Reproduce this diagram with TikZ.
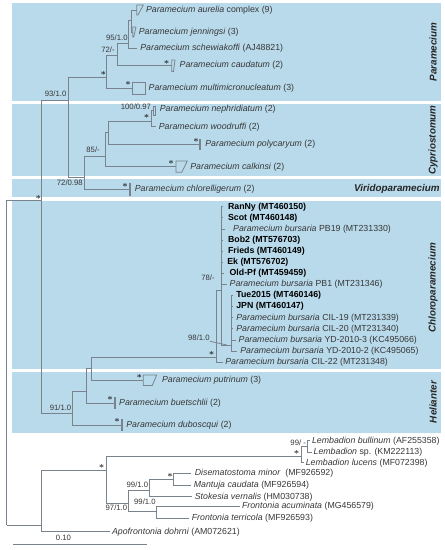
\documentclass[tikz,border=0pt]{standalone}
\usepackage{fontspec}
\setmainfont{Liberation Sans}
\usepackage{tikz}
\usetikzlibrary{positioning}

\definecolor{panelblue}{RGB}{185,218,235}
\definecolor{treegray}{RGB}{120,131,141}
\definecolor{namegray}{RGB}{55,55,55}

\begin{document}
\begin{tikzpicture}[
  x=0.02cm, y=-0.02cm,
  panel/.style={fill=panelblue, draw=none},
  branch/.style={draw=treegray, line width=0.45pt},
  taxon/.style={anchor=west, inner sep=0pt, text height=3.7pt, text depth=1.05pt, text=namegray, font=\fontsize{5}{6}\selectfont},
  strain/.style={taxon, text=black, font=\fontsize{5}{6}\selectfont\bfseries},
  supp/.style={inner sep=0pt, text height=3.2pt, text depth=0.8pt, text=namegray, font=\fontsize{4.4}{5}\selectfont},
  star/.style={inner sep=0pt, font=\fontsize{5.5}{6}\selectfont},
  group/.style={inner sep=0pt, text=black!85, font=\fontsize{5.6}{6}\selectfont\bfseries\itshape}
]
\useasboundingbox (0,0) rectangle (444,550);

\fill[panel] (12,3) rectangle (441,101);
\fill[panel] (12,104.5) rectangle (441,176);
\fill[panel] (12,179) rectangle (441,197.5);
\fill[panel] (12,201) rectangle (441,369);
\fill[panel] (12,372) rectangle (441,433);

\node[group, rotate=90] (gpar) at (433,52) {Paramecium};
\node[group, rotate=90] (gcyp) at (433,140) {Cypriostomum};
\node[group, anchor=east] (gvir) at (440,188.5) {Viridoparamecium};
\node[group, rotate=90] (gchl) at (433,288) {Chloroparamecium};
\node[group, rotate=90] (ghel) at (433,402) {Helianter};

% root and main split
\coordinate (root) at (6.7,525);
\coordinate (ingroup) at (41.7,200.7);
\coordinate (outgroup) at (41.7,525);
\draw[branch] (root) |- (ingroup);
\draw[branch] (root) -- (outgroup);
\node[star] (s0) at (38.3,197) {$\ast$};

% Paramecium
\coordinate (core) at (68,100);
\coordinate (paramcl) at (106.7,77.3);
\coordinate (aurcl) at (117.3,55);
\coordinate (schcl) at (128.3,43.3);
\coordinate (aurjen) at (131.7,20);
\coordinate (aur) at (136.7,10);
\coordinate (jen) at (132.7,32);
\coordinate (sch) at (136.7,48.3);
\coordinate (cau) at (171.7,65.7);
\coordinate (mmi) at (132.7,88.3);

\draw[branch] (ingroup) |- (core);
\draw[branch] (core) |- (paramcl);
\draw[branch] (paramcl) |- (aurcl);
\draw[branch] (paramcl) |- (mmi);
\draw[branch] (aurcl) |- (schcl);
\draw[branch] (aurcl) |- (cau);
\draw[branch] (schcl) |- (aurjen);
\draw[branch] (schcl) |- (sch);
\draw[branch] (aurjen) |- (aur);
\draw[branch] (aurjen) |- (jen);

\draw[branch] (aur) ++(0,-5) -- ++(6.6,0) -- ++(-5.3,10) -- ++(-1.3,0) -- cycle;
\draw[branch] (jen) ++(0,-5) -- ++(3.3,0) -- ++(-2.3,10) -- ++(-1,0) -- cycle;
\draw[branch] (cau) ++(0,-5.7) -- ++(3.3,0) -- ++(-1.5,11.5) -- ++(-1.8,0) -- cycle;
\draw[branch] (mmi) ++(0,-5.8) rectangle ++(12.3,11.6);

\node[taxon] (aurlab) at (145.7,10) {\textit{Paramecium aurelia} complex (9)};
\node[taxon] (jenlab) at (138.5,32.5) {\textit{Paramecium jenningsi} (3)};
\node[taxon] (schlab) at (140,48.3) {\textit{Paramecium schewiakoffi} (AJ48821)};
\node[taxon] (caulab) at (179.3,65.5) {\textit{Paramecium caudatum} (2)};
\node[taxon] (mmilab) at (148.3,88.3) {\textit{Paramecium multimicronucleatum} (3)};

\node[supp, above left=0.7pt and 0.2pt of schcl] (b95) {95/1.0};
\node[supp, above left=0.5pt and 1.3pt of aurcl] (b72) {72/-};
\node[supp, above left=0.9pt and 0.75pt of core] (b93) {93/1.0};
\node[star] (s1) at (103.3,73) {$\ast$};
\node[star] (s2) at (166.7,62) {$\ast$};
\node[star] (s3) at (128,83.5) {$\ast$};

% Cypriostomum and Viridoparamecium
\coordinate (viricl) at (84.3,177.7);
\coordinate (cypcl) at (105,156.7);
\coordinate (polycl) at (108.3,132.7);
\coordinate (nephcl) at (151.7,121);
\coordinate (nep) at (153.8,110.7);
\coordinate (woo) at (156,126.7);
\coordinate (pol) at (199.5,144.3);
\coordinate (cal) at (176,166.7);
\coordinate (chl) at (129.5,189.3);

\draw[branch] (core) |- (viricl);
\draw[branch] (viricl) |- (cypcl);
\draw[branch] (viricl) |- (chl);
\draw[branch] (cypcl) |- (polycl);
\draw[branch] (cypcl) |- (cal);
\draw[branch] (polycl) |- (nephcl);
\draw[branch] (polycl) |- (pol);
\draw[branch] (nephcl) |- (nep);
\draw[branch] (nephcl) |- (woo);

\draw[branch] (nep) ++(0,-4.8) rectangle ++(1.2,9.6);
\draw[branch] (pol) ++(0,-5.3) rectangle ++(1.3,10.6);
\draw[branch] (cal) ++(0,-5.7) -- ++(11.3,0) -- ++(-5.6,11.3) -- ++(-5.7,0) -- cycle;
\draw[branch] (chl) ++(0,-5.8) rectangle ++(1.3,11.6);

\node[taxon] (neplab) at (159.5,109) {\textit{Paramecium nephridiatum} (2)};
\node[taxon] (woolab) at (158.5,126.7) {\textit{Paramecium woodruffi} (2)};
\node[taxon] (pollab) at (205,144.3) {\textit{Paramecium polycaryum} (2)};
\node[taxon] (callab) at (190,166.7) {\textit{Paramecium calkinsi} (2)};
\node[taxon] (chllab) at (134.5,189.3) {\textit{Paramecium chlorelligerum} (2)};

\node[supp, anchor=east] (b100) at (151.3,107.3) {100/0.97};
\node[supp, above left=1.3pt and 2.8pt of cypcl] (b85) {85/-};
\node[supp, below left=1.3pt and 0.7pt of viricl] (b7298) {72/0.98};
\node[star] (s4) at (146.7,116.7) {$\ast$};
\node[star] (s5) at (196,140.7) {$\ast$};
\node[star] (s6) at (171,162.7) {$\ast$};
\node[star] (s7) at (125,185) {$\ast$};

% Helianter
\coordinate (helcl) at (72.7,413.3);
\coordinate (buecl) at (86,391);
\coordinate (putcl) at (91,368.3);
\coordinate (put) at (143.3,380);
\coordinate (bue) at (114.5,403.3);
\coordinate (dub) at (121.5,425);

\draw[branch] (ingroup) |- (helcl);
\draw[branch] (helcl) |- (buecl);
\draw[branch] (helcl) |- (dub);
\draw[branch] (buecl) |- (putcl);
\draw[branch] (buecl) |- (bue);
\draw[branch] (putcl) |- (put);

\draw[branch] (put) ++(0,-5) -- ++(13.4,0) -- ++(-4.4,10.5) -- ++(-9,0) -- cycle;
\draw[branch] (bue) ++(0,-5.5) rectangle ++(1.3,11);
\draw[branch] (dub) ++(0,-5.5) rectangle ++(1.3,11);

\node[taxon] (putlab) at (161.7,380) {\textit{Paramecium putrinum} (3)};
\node[taxon] (buelab) at (118.8,403.3) {\textit{Paramecium buetschlii} (2)};
\node[taxon] (dublab) at (126,425) {\textit{Paramecium duboscqui} (2)};

\node[supp, above left=0.4pt and 0.6pt of helcl] (b91) {91/1.0};
\node[star] (s8) at (139.3,376) {$\ast$};
\node[star] (s9) at (110,398.8) {$\ast$};
\node[star] (s10) at (117,420.8) {$\ast$};

% Chloroparamecium
\coordinate (chlcl) at (216.7,357.7);
\coordinate (burcl) at (221.7,290);
\coordinate (tuecl) at (231.7,345);
\coordinate (tuejoin) at (226.7,345);
\coordinate (ranny) at (223,206.7);
\coordinate (scot) at (223,217.8);
\coordinate (pb19) at (224.5,228.9);
\coordinate (bob2) at (223,240);
\coordinate (frieds) at (223,251.1);
\coordinate (ek) at (223,262.2);
\coordinate (oldpf) at (223.5,273.3);
\coordinate (pb1) at (226.5,284.4);
\coordinate (tue) at (233,295.5);
\coordinate (jpn) at (233,306.6);
\coordinate (cil19) at (233,317.7);
\coordinate (cil20) at (233,328.8);
\coordinate (yd3) at (235.5,339.9);
\coordinate (yd2) at (236.5,351);
\coordinate (cil22) at (222.5,362.1);

\draw[branch] (putcl) |- (chlcl);
\draw[branch] (chlcl) |- (burcl);
\draw[branch] (chlcl) |- (cil22);
\draw[branch] (burcl) |- (ranny);
\draw[branch] (burcl) |- (scot);
\draw[branch] (burcl) |- (pb19);
\draw[branch] (burcl) |- (bob2);
\draw[branch] (burcl) |- (frieds);
\draw[branch] (burcl) |- (ek);
\draw[branch] (burcl) |- (oldpf);
\draw[branch] (burcl) |- (pb1);
\draw[branch] (burcl) |- (tuecl);
\draw[branch] (tuecl) |- (tue);
\draw[branch] (tuecl) |- (jpn);
\draw[branch] (tuecl) |- (cil19);
\draw[branch] (tuecl) |- (cil20);
\draw[branch] (tuecl) |- (yd3);
\draw[branch] (tuecl) |- (yd2);

\node[strain] (rannylab) at (227.7,206.7) {RanNy (MT460150)};
\node[strain] (scotlab) at (227.7,217.8) {Scot (MT460148)};
\node[taxon] (pb19lab) at (232.8,228.9) {\textit{Paramecium bursaria} PB19 (MT231330)};
\node[strain] (bob2lab) at (227.7,240) {Bob2 (MT576703)};
\node[strain] (friedslab) at (227.7,251.1) {Frieds (MT460149)};
\node[strain] (eklab) at (227,262.2) {Ek (MT576702)};
\node[strain] (oldpflab) at (229.3,273.3) {Old-Pf (MT459459)};
\node[taxon] (pb1lab) at (229.3,284.4) {\textit{Paramecium bursaria} PB1 (MT231346)};
\node[strain] (tuelab) at (236,295.5) {Tue2015 (MT460146)};
\node[strain] (jpnlab) at (236,306.6) {JPN (MT460147)};
\node[taxon] (cil19lab) at (236,317.7) {\textit{Paramecium bursaria} CIL-19 (MT231339)};
\node[taxon] (cil20lab) at (236,328.8) {\textit{Paramecium bursaria} CIL-20 (MT231340)};
\node[taxon] (yd3lab) at (238.3,339.9) {\textit{Paramecium bursaria} YD-2010-3 (KC495066)};
\node[taxon] (yd2lab) at (240,351) {\textit{Paramecium bursaria} YD-2010-2 (KC495065)};
\node[taxon] (cil22lab) at (225,362.1) {\textit{Paramecium bursaria} CIL-22 (MT231348)};

\node[supp, anchor=east] (b78) at (215,278.3) {78/-};
\node[supp, anchor=east] (b98) at (210,338.8) {98/1.0};
\draw[branch] (b98) -- (tuejoin);
\node[star] (s11) at (211.7,353.5) {$\ast$};

% outgroup
\coordinate (frocl) at (106.7,470);
\coordinate (lemcl) at (301.7,456);
\coordinate (bulcl) at (307.3,446);
\coordinate (stokcl) at (128.3,503);
\coordinate (discl) at (149.3,490);
\coordinate (mancl) at (173.3,479);
\coordinate (froncl) at (156.7,511);
\coordinate (bul) at (310,440.7);
\coordinate (lsp) at (312,452);
\coordinate (luc) at (304,462.7);
\coordinate (dis) at (191,473);
\coordinate (man) at (191,485);
\coordinate (stok) at (192,496.7);
\coordinate (acu) at (239.5,506.5);
\coordinate (ter) at (188.5,518);
\coordinate (apo) at (110,531.7);

\draw[branch] (outgroup) |- (frocl);
\draw[branch] (outgroup) |- (apo);
\draw[branch] (frocl) |- (lemcl);
\draw[branch] (frocl) |- (stokcl);
\draw[branch] (lemcl) |- (bulcl);
\draw[branch] (lemcl) |- (luc);
\draw[branch] (bulcl) |- (bul);
\draw[branch] (bulcl) |- (lsp);
\draw[branch] (stokcl) |- (discl);
\draw[branch] (stokcl) |- (froncl);
\draw[branch] (discl) |- (mancl);
\draw[branch] (discl) |- (stok);
\draw[branch] (mancl) |- (dis);
\draw[branch] (mancl) |- (man);
\draw[branch] (froncl) |- (acu);
\draw[branch] (froncl) |- (ter);

\node[taxon] (bullab) at (311.7,440.7) {\textit{Lembadion bullinum} (AF255358)};
\node[taxon] (lsplab) at (313.3,452) {\textit{Lembadion} sp. (KM222113)};
\node[taxon] (luclab) at (305.5,462.7) {\textit{Lembadion lucens} (MF072398)};
\node[taxon] (dislab) at (194.5,473) {\textit{Disematostoma minor}\ \ (MF926592)};
\node[taxon] (manlab) at (193.5,485) {\textit{Mantuja caudata} (MF926594)};
\node[taxon] (stoklab) at (194.5,496.7) {\textit{Stokesia vernalis} (HM030738)};
\node[taxon] (aculab) at (241.7,506.5) {\textit{Frontonia acuminata} (MG456579)};
\node[taxon] (terlab) at (191.5,518) {\textit{Frontonia terricola} (MF926593)};
\node[taxon] (apolab) at (111.7,531.7) {\textit{Apofrontonia dohrni} (AM072621)};

\node[supp, anchor=east] (b99a) at (306.3,443) {99/ -};
\node[supp, anchor=east] (b99b) at (148.5,485.3) {99/1.0};
\node[supp, anchor=east] (b99c) at (156,502) {99/1.0};
\node[supp, anchor=east] (b97) at (127.5,508) {97/1.0};
\node[star] (s12) at (101.7,466) {$\ast$};
\node[star] (s13) at (296.7,452.3) {$\ast$};
\node[star] (s14) at (170,475) {$\ast$};

% scale bar
\coordinate (sbl) at (13.3,544);
\coordinate (sbr) at (146.7,544);
\draw[branch] (sbl) -- (sbr);
\node[supp] (sblab) at (63.5,538.3) {0.10};

\end{tikzpicture}
\end{document}
